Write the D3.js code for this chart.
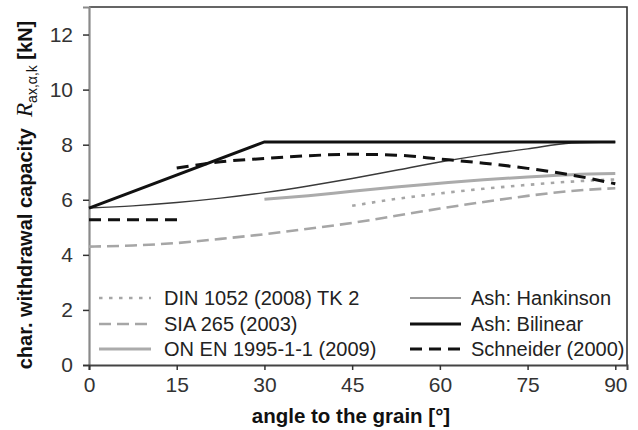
<!DOCTYPE html>
<html>
<head>
<meta charset="utf-8">
<script src="https://cdn.jsdelivr.net/npm/d3@7/dist/d3.min.js"></script>
<style>
    body { margin: 0; background: #fff; }
    svg { font-family: "Liberation Sans", Arial, sans-serif; }
</style>
</head>
<body>
<script>
//Datos

//Ángulos (grados)
const angles = [0, 7.5, 15, 22.5, 30, 37.5, 45, 52.5, 60, 67.5, 75, 82.5, 90];
const anglesOnEn = [30, 37.5, 45, 52.5, 60, 67.5, 75, 82.5, 90];
const anglesDin = [45, 52.5, 60, 67.5, 75, 82.5, 90];
const anglesBilinear = [0, 30, 90];
const anglesSchneiderA = [0, 15.5];
const anglesSchneiderB = [15, 22.5, 30, 37.5, 45, 52.5, 60, 67.5, 75, 82.5, 90];

//Valores [kN]
const valuesDin = [5.78, 6.03, 6.23, 6.4, 6.54, 6.66, 6.74];
const valuesSia = [4.3, 4.34, 4.43, 4.58, 4.75, 4.95, 5.16, 5.42, 5.68, 5.92, 6.14, 6.32, 6.42];
const valuesOnEn = [6.02, 6.15, 6.31, 6.46, 6.6, 6.73, 6.83, 6.91, 6.95];
const valuesHankinson = [5.7, 5.78, 5.9, 6.06, 6.26, 6.5, 6.77, 7.07, 7.37, 7.63, 7.85, 8.06, 8.1];
const valuesBilinear = [5.7, 8.1, 8.1];
const valuesSchneiderA = [5.27, 5.27];
const valuesSchneiderB = [7.15, 7.38, 7.5, 7.6, 7.65, 7.62, 7.48, 7.33, 7.14, 6.9, 6.58];

//Ticks
const xTicks = [0, 15, 30, 45, 60, 75, 90];
const yTicks = [0, 2, 4, 6, 8, 10, 12];

//Leyenda
const legendLeft = ["DIN 1052 (2008) TK 2", "SIA 265 (2003)", "ON EN 1995-1-1 (2009)"];
const legendRight = ["Ash: Hankinson", "Ash: Bilinear", "Schneider (2000)"];

//Tamaño
const [w, h] = [638, 430];
const margin = { left: 89, right: 11, top: 7, bottom: 65 };

const svg = d3.select("body")
    .append("svg")
    .attr("width", w)
    .attr("height", h);

//Escalas
const xScale = d3.scaleLinear()
    .domain([0, 92])
    .range([margin.left, w - margin.right]);

const yScale = d3.scaleLinear()
    .domain([0, 13])
    .range([h - margin.bottom, margin.top]);

//Estilos de cada serie
const styles = {
    din: { stroke: "#a6a6a6", width: 2.6, dash: "3.5,6.5" },
    sia: { stroke: "#a6a6a6", width: 2.6, dash: "12,6" },
    onen: { stroke: "#ababab", width: 3, dash: null },
    hank: { stroke: "#3a3a3a", width: 1.4, dash: null },
    bil: { stroke: "#111", width: 3, dash: null },
    sch: { stroke: "#111", width: 3, dash: "12,7" }
};

//Ejes
const yAxis = d3.axisLeft(yScale).tickValues(yTicks).tickSize(6).tickPadding(10);
const xAxis = d3.axisBottom(xScale).tickValues(xTicks).tickSize(5).tickPadding(7);

//Marco superior y derecho
svg.append("path")
    .attr("d", `M${margin.left},${margin.top}H${w - margin.right}V${h - margin.bottom}`)
    .attr("fill", "none")
    .attr("stroke", "#333")
    .attr("stroke-width", 1.6);

const gy = svg.append("g")
    .attr("transform", "translate(" + margin.left + ",0)")
    .call(yAxis);

const gx = svg.append("g")
    .attr("transform", "translate(0," + (h - margin.bottom) + ")")
    .call(xAxis);

gy.select(".domain").attr("stroke", "#8a8a8a").attr("stroke-width", 2.2);
gx.select(".domain").attr("stroke", "#444").attr("stroke-width", 2);
svg.selectAll(".tick line").attr("stroke", "#333").attr("stroke-width", 1.5);
svg.selectAll(".tick text")
    .attr("font-size", 21)
    .attr("fill", "#333")
    .attr("font-family", '"Liberation Sans", Arial, sans-serif');

//Líneas: curvas suaves y rectas
const smooth = d3.line()
    .x((d) => xScale(d[0]))
    .y((d) => yScale(d[1]))
    .curve(d3.curveMonotoneX);

const straight = d3.line()
    .x((d) => xScale(d[0]))
    .y((d) => yScale(d[1]));

function drawSeries(xs, ys, st, gen) {
    svg.append("path")
        .datum(xs.map((x, i) => [x, ys[i]]))
        .attr("d", gen)
        .attr("fill", "none")
        .attr("stroke", st.stroke)
        .attr("stroke-width", st.width)
        .attr("stroke-dasharray", st.dash);
}

drawSeries(angles, valuesSia, styles.sia, smooth);
drawSeries(anglesDin, valuesDin, styles.din, smooth);
drawSeries(anglesOnEn, valuesOnEn, styles.onen, smooth);
drawSeries(angles, valuesHankinson, styles.hank, smooth);
drawSeries(anglesSchneiderA, valuesSchneiderA, styles.sch, straight);
drawSeries(anglesSchneiderB, valuesSchneiderB, styles.sch, smooth);
drawSeries(anglesBilinear, valuesBilinear, styles.bil, straight);

//Leyenda
const legendY = [298, 324, 349];

function drawLegend(names, keys, x0, x1, xt) {
    names.forEach((name, i) => {
        const st = styles[keys[i]];
        svg.append("line")
            .attr("x1", x0).attr("x2", x1)
            .attr("y1", legendY[i]).attr("y2", legendY[i])
            .attr("stroke", keys[i] === "hank" ? "#777" : st.stroke)
            .attr("stroke-width", st.width)
            .attr("stroke-dasharray", st.dash);
        svg.append("text")
            .attr("x", xt)
            .attr("y", legendY[i])
            .attr("dy", "0.35em")
            .attr("font-size", 20)
            .attr("fill", "#222")
            .text(name);
    });
}

drawLegend(legendLeft, ["din", "sia", "onen"], 99, 151, 164);
drawLegend(legendRight, ["hank", "bil", "sch"], 410, 461, 471);

//Títulos de los ejes
svg.append("text")
    .attr("x", 351)
    .attr("y", 423)
    .attr("text-anchor", "middle")
    .attr("font-size", 20.5)
    .attr("font-weight", "bold")
    .attr("fill", "#111")
    .text("angle to the grain [°]");

const yTitle = svg.append("text")
    .attr("transform", "translate(32,195) rotate(-90)")
    .attr("text-anchor", "middle")
    .attr("font-size", 20)
    .attr("font-weight", "bold")
    .attr("fill", "#111");

yTitle.append("tspan").text("char. withdrawal capacity\u00a0\u00a0");
yTitle.append("tspan")
    .attr("font-family", '"Liberation Serif", "Times New Roman", serif')
    .attr("font-style", "italic")
    .attr("font-weight", "normal")
    .attr("font-size", 23)
    .text("R");
yTitle.append("tspan")
    .attr("font-weight", "normal")
    .attr("font-size", 14)
    .attr("dy", 5)
    .text("ax,\u03b1,k");
yTitle.append("tspan")
    .attr("dy", -5)
    .text("\u00a0[kN]");
</script>
</body>
</html>
